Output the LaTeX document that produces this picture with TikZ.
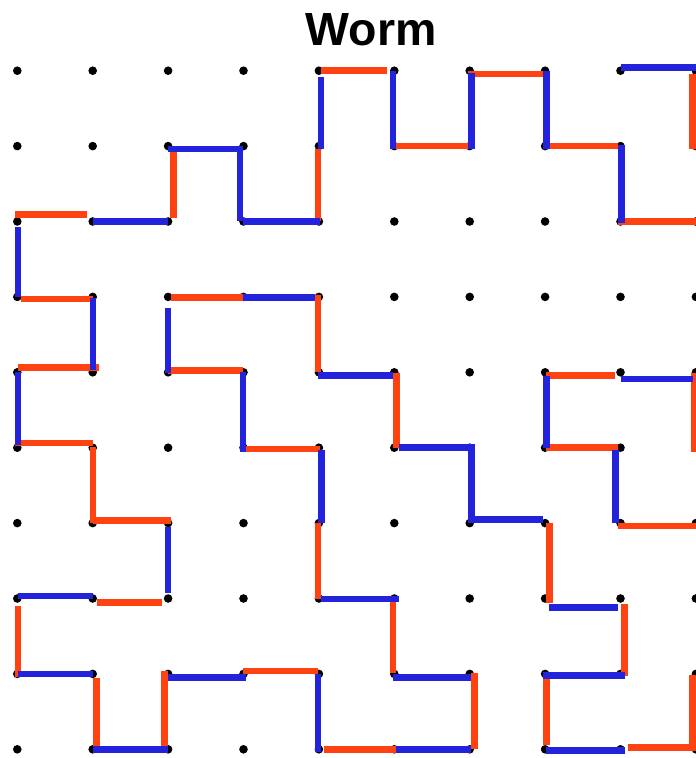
\documentclass[tikz,border=0pt]{standalone}
\usepackage{fontspec}
\setmainfont{Liberation Sans}
\definecolor{wred}{RGB}{255,66,18}
\definecolor{wblue}{RGB}{35,35,220}
\begin{document}
\begin{tikzpicture}[x=1pt,y=-1pt,
  seg/.style={line width=6.8pt,line cap=butt},
  redseg/.style={seg,draw=wred},
  blueseg/.style={seg,draw=wblue},
  gdot/.style={fill=black}]
\useasboundingbox (0,0) rectangle (696,758);
\clip (0,0) rectangle (696,758);
% title
\node[anchor=base,inner sep=0pt,font=\bfseries\fontsize{46.5}{50}\selectfont] (title) at (371,45) {Worm};
% dots
\foreach \i in {0,...,9}{
  \foreach \j in {0,...,9}{
    \fill[gdot] ({17.3+75.4*\i},{70.7+75.4*\j}) circle (4.3);
  }
}
% red segments
\foreach \a/\b/\c/\d in {
  321/70.7/387/70.7, 467.7/74/546/74, 393.3/146/468.3/146, 542.7/146/618.3/146,
  15/214.7/86.7/214.7, 617.7/221.3/700/221.3, 21/299/93.3/299, 171/297.7/243.3/297.7,
  17.7/367.7/99/367.7, 168.3/370.7/242.7/370.7, 546/375.7/615/375.7, 15/443/92.7/443,
  243.3/449/320/449, 546/447.3/618.3/447.3, 93.3/520.7/171/520.7, 618.3/526/700/526,
  96.7/602.3/161.7/602.3, 243.3/671/318.3/671, 324.3/749.3/396/749.3, 628.3/747.3/700/747.3,
  173.7/152/173.7/218, 318/149/318/221, 692.7/74/692.7/149, 318/295/318/372,
  396.3/373.3/396.3/448.3, 694/373/694/451.7, 93/446.7/93/523.3, 318/523.3/318/599,
  549.7/522.7/549.7/603.3, 18/606/18/676.7, 393/599/393/673.3, 624.3/604/624.3/676,
  699.3/602/699.3/670, 96.3/677.7/96.3/749.3, 164.7/671/164.7/749.3, 474.3/673.3/474.3/749.3,
  546.3/678.3/546.3/745, 692.8/675/692.8/750}{
  \draw[redseg] (\a,\b) -- (\c,\d);
}
% blue segments
\foreach \a/\b/\c/\d in {
  621/67.7/700/67.7, 168/149/243/149, 92.7/221.3/168.3/221.3, 243/221.3/320/221.3,
  243.3/297.7/315/297.7, 318.3/375.7/392.7/375.7, 621/379/693.3/379, 399/447.3/475/447.3,
  471/519.3/542.7/519.3, 18.3/596/92.7/596, 321/599/399/599, 549.3/607.3/618.3/607.3,
  18.3/674/93.3/674, 168.3/677.3/246/677.3, 393.3/677.3/471/677.3, 542.7/675.7/625/675.7,
  93.3/749.3/168.3/749.3, 396/749.3/471/749.3, 546/750.7/625/750.7,
  321/77/321/149, 393/70.7/393/149, 471.3/73.3/471.3/149, 546.3/70.7/546.3/149,
  240/149/240/221, 621.3/145/621.3/223.3, 699.3/149/699.3/219, 18/227.3/18/297.3,
  93/298.3/93/370, 168/308.3/168/373.3, 243/371.7/243/451.7, 18/371.7/18/445,
  546.3/375.7/546.3/447.7, 321.3/450/321.3/523.3, 471.3/445/471.3/522.7, 615.3/450/615.3/522.7,
  699.3/452/699.3/594, 168/526.7/168/592.7, 318/674.3/318/751.7}{
  \draw[blueseg] (\a,\b) -- (\c,\d);
}
\end{tikzpicture}
\end{document}
